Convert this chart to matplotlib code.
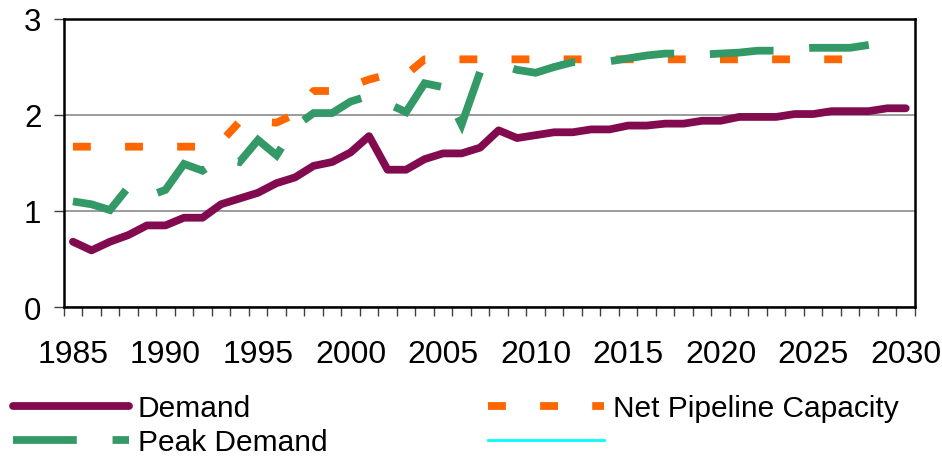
import numpy as np
import matplotlib
matplotlib.use("Agg")
import matplotlib.pyplot as plt
from matplotlib.ticker import FixedLocator, NullFormatter

plt.rcParams['font.family'] = ['Liberation Sans', 'DejaVu Sans']

years = np.arange(1985, 2031)

demand = [0.68, 0.59, 0.68, 0.75, 0.85, 0.85, 0.93, 0.93, 1.07, 1.13,
          1.19, 1.29, 1.35, 1.47, 1.51, 1.61, 1.78, 1.43, 1.43, 1.54,
          1.60, 1.60, 1.66, 1.84, 1.76, 1.79, 1.82, 1.82, 1.85, 1.85,
          1.89, 1.89, 1.91, 1.91, 1.94, 1.94, 1.98, 1.98, 1.98, 2.01,
          2.01, 2.04, 2.04, 2.04, 2.07, 2.07]

peak_demand = [1.10, 1.07, 1.01, 1.25, 1.15, 1.22, 1.49, 1.42, 1.55, 1.51,
               1.74, 1.58, 1.88, 2.02, 2.02, 2.14, 2.20, 2.12, 2.03, 2.33,
               2.29, 1.90, 2.45, 2.53, 2.47, 2.44, 2.50, 2.55, 2.55, 2.56,
               2.59, 2.62, 2.64, 2.64, 2.63, 2.64, 2.65, 2.67, 2.67, 2.69,
               2.70, 2.70, 2.70, 2.73, np.nan, np.nan]

net_pipeline = [1.67, 1.67, 1.67, 1.67, 1.67, 1.67, 1.67, 1.67, 1.72, 1.93,
                1.93, 1.92, 2.01, 2.25, 2.25, 2.30, 2.37, 2.42, 2.42, 2.58,
                2.58, 2.58, 2.58, 2.58, 2.58, 2.58, 2.58, 2.58, 2.58, 2.58,
                2.58, 2.58, 2.58, 2.58, 2.58, 2.58, 2.58, 2.58, 2.58, 2.58,
                2.58, 2.58, 2.58, 2.58, np.nan, np.nan]

other_series = []  # unlabeled cyan series (no visible data)

x_labels = [str(y) for y in range(1985, 2031, 5)]
y_ticks = [0, 1, 2, 3]

W, H = 942, 460
fig = plt.figure(figsize=(W / 100, H / 100), dpi=100)
ax = fig.add_axes([63.7 / W, 1 - 308 / H, (915 - 63.7) / W, (308 - 20) / H])

c_demand = '#820B50'
c_peak = '#339966'
c_net = '#FF6600'
c_cyan = '#00FFFF'
lw = 5.6

l_net, = ax.plot(years, net_pipeline, color=c_net, lw=lw, dashes=(2.3, 4.4),
                 dash_capstyle='butt', zorder=3)
l_peak, = ax.plot(years, peak_demand, color=c_peak, lw=lw, dashes=(8.2, 4.6),
                  dash_capstyle='butt', dash_joinstyle='miter', zorder=4)
l_dem, = ax.plot(years, demand, color=c_demand, lw=lw, solid_capstyle='round',
                 solid_joinstyle='round', zorder=5)
l_cyan, = ax.plot(other_series, other_series, color=c_cyan, lw=2.0)

ax.set_xlim(1984.5, 2030.5)
ax.set_ylim(0, 3)
ax.set_yticks(y_ticks)
ax.set_yticklabels([str(v) for v in y_ticks])
ax.xaxis.set_major_locator(FixedLocator(list(range(1985, 2031, 5))))
ax.set_xticklabels(x_labels)
ax.xaxis.set_minor_locator(FixedLocator(list(np.arange(1984.5, 2031, 1.0))))
ax.xaxis.set_minor_formatter(NullFormatter())
ax.tick_params(axis='x', which='major', length=0, pad=23, labelsize=23)
ax.tick_params(axis='x', which='minor', length=6.5, width=1.0, direction='out', color='#404040')
ax.tick_params(axis='y', which='major', length=7, width=1.0, direction='out', pad=9,
               labelsize=22.5, color='#404040')

ax.grid(axis='y', color='#808080', lw=1.1, zorder=1)
ax.set_axisbelow(True)
for s in ax.spines.values():
    s.set_color('black')
    s.set_linewidth(1.8)

leg_kw = dict(frameon=False, fontsize=21.5, handlelength=3.9, handletextpad=0.27,
              borderpad=0, borderaxespad=0, labelspacing=0.2, loc='upper left')
leg1 = fig.legend([l_dem, l_peak], ['Demand', 'Peak Demand'],
                  bbox_to_anchor=(13 / W, 1 - 395 / H), **leg_kw)
leg2 = fig.legend([l_net, l_cyan], ['Net Pipeline Capacity', ' '],
                  bbox_to_anchor=(488 / W, 1 - 395 / H), **leg_kw)

fig.savefig('out.png', dpi=100)
